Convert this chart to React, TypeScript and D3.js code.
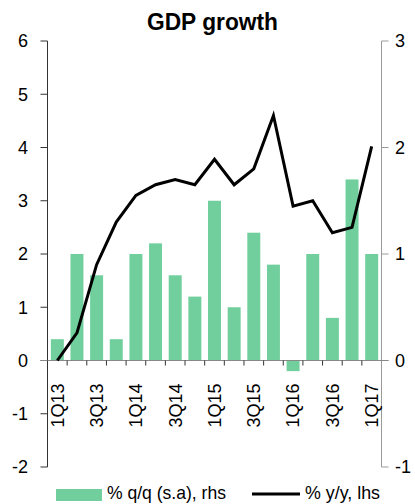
import * as d3 from "d3";
import React from "react";

// quarters 1Q13 .. 1Q17
const quarters = [
  "1Q13", "2Q13", "3Q13", "4Q13",
  "1Q14", "2Q14", "3Q14", "4Q14",
  "1Q15", "2Q15", "3Q15", "4Q15",
  "1Q16", "2Q16", "3Q16", "4Q16",
  "1Q17",
];
// % q/q (s.a), right axis
const qoq = [0.2, 1.0, 0.8, 0.2, 1.0, 1.1, 0.8, 0.6, 1.5, 0.5, 1.2, 0.9, -0.1, 1.0, 0.4, 1.7, 1.0];
// % y/y, left axis
const yoy = [0.0, 0.52, 1.8, 2.6, 3.1, 3.3, 3.4, 3.3, 3.78, 3.3, 3.6, 4.6, 2.9, 3.0, 2.4, 2.5, 4.02];

const leftTicks = [-2, -1, 0, 1, 2, 3, 4, 5, 6];
const rightTicks = [-1, 0, 1, 2, 3];

const GREEN = "#70cf9c";
const FONT = "Liberation Sans, Arial, sans-serif";

const App = () => {
  const width = 415;
  const height = 504;
  const left = 47.5;
  const right = 381.5;
  const top = 41;
  const bottom = 467;

  const x = d3.scaleBand().domain(quarters).range([left, right]).paddingInner(0.34).paddingOuter(0.17);
  const step = x.step();
  const yL = d3.scaleLinear().domain([-2, 6]).range([bottom, top]);
  const yR = d3.scaleLinear().domain([-1, 3]).range([bottom, top]);
  const zero = yL(0);

  const line = d3
    .line<number>()
    .x((_, i) => (x(quarters[i]) as number) + x.bandwidth() / 2)
    .y((d) => yL(d));

  return (
    <svg width={width} height={height} style={{ position: "absolute", left: 0, top: 0 }}>
      <text
        x={147}
        y={30}
        textLength={131}
        lengthAdjust="spacingAndGlyphs"
        fontFamily={FONT}
        fontWeight="bold"
        fontSize={24}
      >
        GDP growth
      </text>

      {/* bars */}
      {qoq.map((v, i) => (
        <rect
          key={quarters[i]}
          x={x(quarters[i])}
          y={Math.min(yR(v), yR(0))}
          width={x.bandwidth()}
          height={Math.abs(yR(v) - yR(0))}
          fill={GREEN}
        />
      ))}

      {/* left axis */}
      <line x1={left} x2={left} y1={top} y2={bottom} stroke="#333" strokeWidth={1} />
      {leftTicks.map((t) => (
        <g key={"l" + t}>
          <line x1={left - 7} x2={left} y1={yL(t)} y2={yL(t)} stroke="#333" />
          <text x={28} y={yL(t)} dy="0.35em" textAnchor="end" fontFamily={FONT} fontSize={18}>
            {t}
          </text>
        </g>
      ))}

      {/* right axis */}
      <line x1={right} x2={right} y1={top} y2={bottom} stroke="#999" strokeWidth={1} />
      {rightTicks.map((t) => (
        <g key={"r" + t}>
          <line x1={right} x2={right + 7} y1={yR(t)} y2={yR(t)} stroke="#999" />
          <text x={395} y={yR(t)} dy="0.35em" textAnchor="start" fontFamily={FONT} fontSize={18}>
            {t}
          </text>
        </g>
      ))}

      {/* zero line with category ticks */}
      <line x1={left - 7} x2={right + 7} y1={zero} y2={zero} stroke="#888" />
      {quarters.map((q, i) => (
        <line
          key={"t" + q}
          x1={left + step * i}
          x2={left + step * i}
          y1={zero}
          y2={zero + 5}
          stroke="#333"
        />
      ))}
      {quarters.map((q, i) =>
        i % 2 === 0 ? (
          <text
            key={"x" + q}
            transform={`translate(${(x(q) as number) + x.bandwidth() / 2},383.5) rotate(-90)`}
            dy="0.35em"
            textAnchor="end"
            fontFamily={FONT}
            fontSize={18}
          >
            {q}
          </text>
        ) : null
      )}

      {/* y/y line */}
      <path d={line(yoy) ?? ""} fill="none" stroke="#000" strokeWidth={3} strokeLinejoin="miter" />

      {/* legend */}
      <rect x={56} y={489} width={46} height={12} fill={GREEN} />
      <text
        x={107}
        y={499}
        textLength={119}
        lengthAdjust="spacingAndGlyphs"
        fontFamily={FONT}
        fontSize={19}
      >
        % q/q (s.a), rhs
      </text>
      <line x1={252} x2={300} y1={494} y2={494} stroke="#000" strokeWidth={3} />
      <text
        x={305}
        y={499}
        textLength={75}
        lengthAdjust="spacingAndGlyphs"
        fontFamily={FONT}
        fontSize={19}
      >
        % y/y, lhs
      </text>
    </svg>
  );
};

export default App;
